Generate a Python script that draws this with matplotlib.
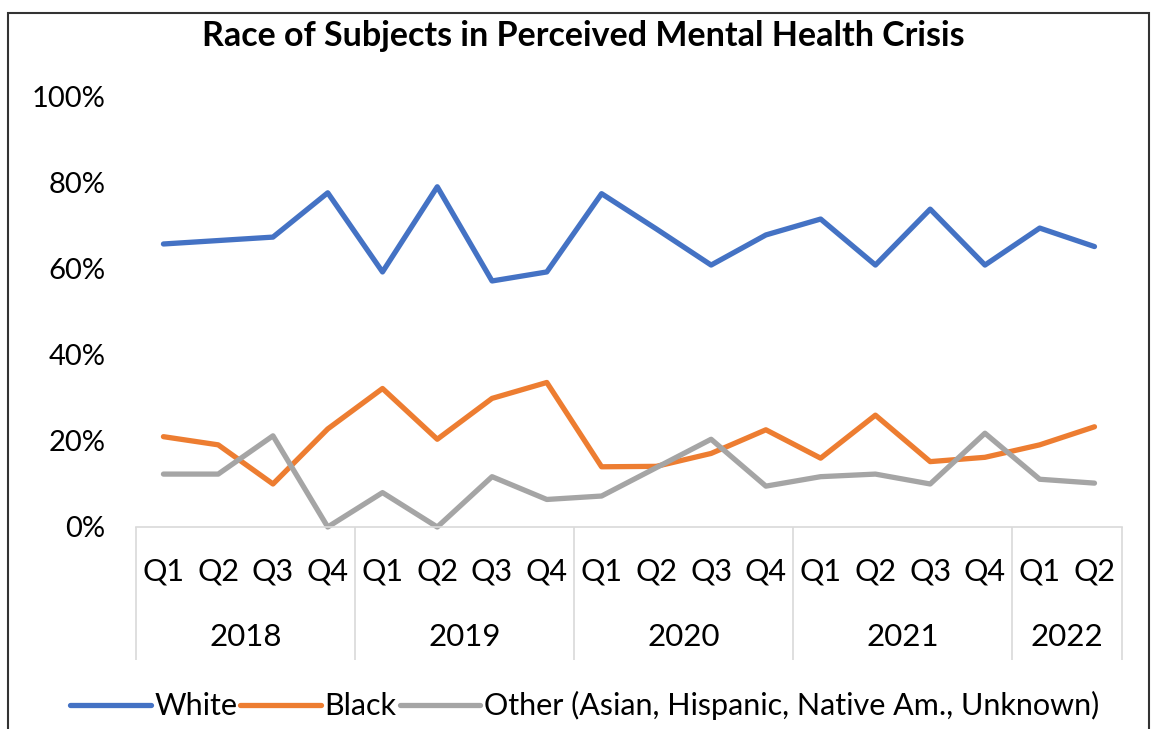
import matplotlib.pyplot as plt
import matplotlib.transforms as mtransforms
from matplotlib.patches import Rectangle

# quarterly shares
quarters = ["Q1", "Q2", "Q3", "Q4"] * 4 + ["Q1", "Q2"]
years = ["2018", "2019", "2020", "2021", "2022"]
year_sizes = [4, 4, 4, 4, 2]

white = [0.658, 0.666, 0.674, 0.777, 0.593, 0.791, 0.572, 0.593, 0.775,
         0.693, 0.609, 0.679, 0.716, 0.609, 0.739, 0.609, 0.695, 0.652]
black = [0.210, 0.191, 0.100, 0.228, 0.322, 0.204, 0.299, 0.336, 0.140,
         0.141, 0.171, 0.226, 0.160, 0.260, 0.152, 0.162, 0.191, 0.233]
other = [0.123, 0.123, 0.212, 0.000, 0.080, 0.000, 0.117, 0.064, 0.072,
         0.138, 0.204, 0.095, 0.117, 0.123, 0.100, 0.218, 0.111, 0.102]

series = [("White", white, "#4472C4"),
          ("Black", black, "#ED7D31"),
          ("Other (Asian, Hispanic, Native Am., Unknown)", other, "#A5A5A5")]

plt.rcParams["font.family"] = ["Lato", "DejaVu Sans"]

fig = plt.figure(figsize=(11.53, 7.29), dpi=100)
ax = fig.add_axes([0.118, 0.2771, 0.855, 0.590])

x = list(range(len(quarters)))
for name, vals, col in series:
    ax.plot(x, vals, color=col, linewidth=3.8, label=name, solid_joinstyle="round",
            solid_capstyle="round", clip_on=False)

ax.set_xlim(-0.5, len(quarters) - 0.5)
ax.set_ylim(0, 1)
ax.set_yticks([0, 0.2, 0.4, 0.6, 0.8, 1.0])
ax.set_yticklabels(["0%", "20%", "40%", "60%", "80%", "100%"])
ax.tick_params(axis="y", length=0, pad=22, labelsize=21)

ax.set_xticks(x)
ax.set_xticklabels(quarters)
ax.tick_params(axis="x", which="major", length=0, pad=22, labelsize=22)

# group separators as long minor ticks
bounds = [-0.5]
for n in year_sizes:
    bounds.append(bounds[-1] + n)
ax.set_xticks(bounds, minor=True)
ax.tick_params(axis="x", which="minor", length=96, width=1.2, color="#d9d9d9",
               direction="out")

trans = mtransforms.blended_transform_factory(ax.transData, ax.transAxes)
for i, yr in enumerate(years):
    cx = (bounds[i] + bounds[i + 1]) / 2
    ax.text(cx, -0.256, yr, transform=trans, ha="center", va="center", fontsize=22.5)

for side in ["top", "right", "left"]:
    ax.spines[side].set_visible(False)
ax.spines["bottom"].set_color("#d9d9d9")
ax.spines["bottom"].set_linewidth(1.2)

fig.text(0.506, 0.950, "Race of Subjects in Perceived Mental Health Crisis",
         ha="center", va="center", fontsize=24.5, fontweight="bold")

fig.legend(loc="center", bbox_to_anchor=(0.507, 0.032), ncol=3, frameon=False,
           fontsize=22, handlelength=2.65, handletextpad=0.1, columnspacing=0.1)

fig.patches.append(Rectangle((8 / 1153, -0.01), 1141 / 1153, 0.002 + 722 / 729,
                             transform=fig.transFigure, fill=False,
                             edgecolor="#333333", linewidth=1.5))

fig.savefig("out.png", dpi=100)
